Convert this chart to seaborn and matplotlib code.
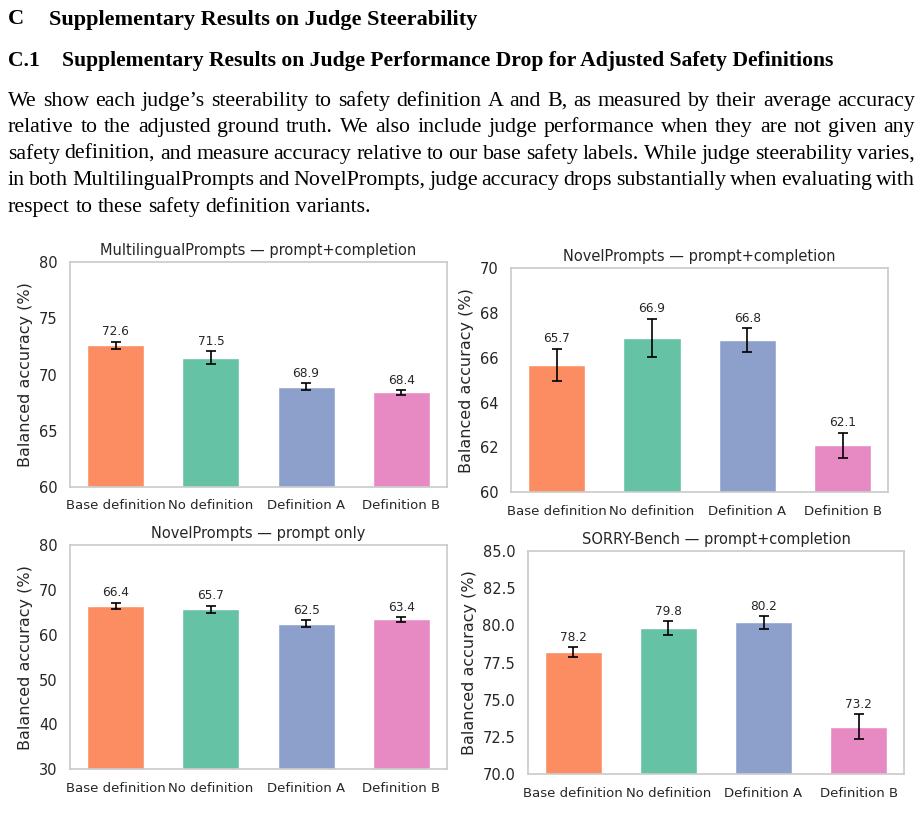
import numpy as np
import pandas as pd
import matplotlib
matplotlib.use("Agg")
import matplotlib.pyplot as plt
import seaborn as sns

# ---------------- data ----------------
categories = ["Base definition", "No definition", "Definition A", "Definition B"]

mp_pc_mean = [72.6, 71.5, 68.9, 68.4]
mp_pc_err = [0.33, 0.57, 0.30, 0.20]

np_pc_mean = [65.7, 66.9, 66.8, 62.1]
np_pc_err = [0.71, 0.85, 0.53, 0.56]

np_p_mean = [66.4, 65.7, 62.5, 63.4]
np_p_err = [0.70, 0.78, 0.78, 0.50]

sb_pc_mean = [78.2, 79.8, 80.2, 73.2]
sb_pc_err = [0.35, 0.47, 0.41, 0.83]

titles = [
    "MultilingualPrompts — prompt+completion",
    "NovelPrompts — prompt+completion",
    "NovelPrompts — prompt only",
    "SORRY-Bench — prompt+completion",
]
ylims = [(60, 80), (60, 70), (30, 80), (70, 85)]
ytick_steps = [5, 2, 10, 2.5]

heading1_num = "C"
heading1 = "Supplementary Results on Judge Steerability"
heading2_num = "C.1"
heading2 = "Supplementary Results on Judge Performance Drop for Adjusted Safety Definitions"
body_lines = [
    "We show each judge’s steerability to safety definition A and B, as measured by their average accuracy",
    "relative to the adjusted ground truth. We also include judge performance when they are not given any",
    "safety definition, and measure accuracy relative to our base safety labels. While judge steerability varies,",
    "in both MultilingualPrompts and NovelPrompts, judge accuracy drops substantially when evaluating with",
    "respect to these safety definition variants.",
]

colors = ["#fc8d62", "#66c2a5", "#8da0cb", "#e78ac3"]

# ---------------- figure ----------------
sns.set_theme(style="whitegrid")
plt.rcParams["font.family"] = ["DejaVu Sans"]

W, H = 923, 816
fig = plt.figure(figsize=(W / 100, H / 100), dpi=100)
fig.patch.set_facecolor("white")

# axes boxes in pixels: left, top, right, bottom
boxes = [
    (70, 262.3, 447, 486.7),
    (511, 268.3, 888.3, 492.3),
    (70, 545, 447, 769.3),
    (527.7, 551, 904.3, 774.3),
]
panels = [
    (mp_pc_mean, mp_pc_err),
    (np_pc_mean, np_pc_err),
    (np_p_mean, np_p_err),
    (sb_pc_mean, sb_pc_err),
]

palette = dict(zip(categories, colors))

for (l, t, r, b), (means, errs), title, ylim, step in zip(boxes, panels, titles, ylims, ytick_steps):
    ax = fig.add_axes([l / W, 1 - b / H, (r - l) / W, (b - t) / H])
    df = pd.DataFrame({"cat": categories, "val": means})
    sns.barplot(data=df, x="cat", y="val", hue="cat", palette=palette, order=categories,
                hue_order=categories, width=0.6, legend=False, ax=ax, saturation=1,
                edgecolor="white", linewidth=1.0, errorbar=None)
    bars = sorted(ax.patches, key=lambda p: p.get_x())
    xs = [p.get_x() + p.get_width() / 2 for p in bars]
    ax.errorbar(xs, means, yerr=errs, fmt="none", ecolor="black", elinewidth=1.2,
                capsize=3.6, capthick=1.2, zorder=5)
    for x, m, e in zip(xs, means, errs):
        ax.annotate(f"{m:.1f}", xy=(x, m + e), xytext=(0, 2.5), textcoords="offset points",
                    ha="center", va="bottom", fontsize=8.7, color="#262626")
    ax.set_ylim(*ylim)
    ax.set_yticks(np.arange(ylim[0], ylim[1] + step / 2, step))
    ax.grid(False)
    for s in ax.spines.values():
        s.set_color("#cccccc")
        s.set_linewidth(1.25)
    ax.tick_params(axis="y", length=0, pad=9, labelsize=10.5, colors="#262626")
    ax.tick_params(axis="x", length=0, pad=9, labelsize=9.5, colors="#262626")
    ax.set_xlabel("")
    ax.set_ylabel("Balanced accuracy (%)", fontsize=11.5, color="#262626", labelpad=4)
    ax.set_title(title, fontsize=10.5, color="#262626", pad=5)

# ---------------- header text ----------------
renderer = fig.canvas.get_renderer()
serif = ["Liberation Serif", "DejaVu Serif"]


def measure(txt, size, weight):
    t = fig.text(0, 0, txt, fontsize=size, family=serif, fontweight=weight)
    w = t.get_window_extent(renderer).width
    t.remove()
    return w


def fit_size(txt, target, weight):
    return 10 * target / measure(txt, 10, weight)


def put(txt, x, y, size, weight):
    fig.text(x / W, 1 - y / H, txt, fontsize=size, family=serif, fontweight=weight,
             va="baseline", ha="left", color="black")


# section heading
s1 = fit_size(heading1, 478 - 49, "bold")
put(heading1_num, 8, 24.5, s1, "bold")
put(heading1, 49, 24.5, s1, "bold")

s2 = fit_size(heading2, 838 - 62, "bold")
put(heading2_num, 8, 66, s2, "bold")
put(heading2, 62, 66, s2, "bold")

# body, justified
x0, x1 = 8, 915
sb = fit_size(body_lines[0], (x1 - x0) * 0.985, "normal")
baselines = [105.7, 132.2, 158.7, 185.2, 211.7]
space_w = measure("a b", sb, "normal") - measure("ab", sb, "normal")
for i, (line, yb) in enumerate(zip(body_lines, baselines)):
    words = line.split(" ")
    widths = [measure(w, sb, "normal") for w in words]
    if i < len(body_lines) - 1:
        gap = (x1 - x0 - sum(widths)) / (len(words) - 1)
    else:
        gap = space_w
    x = x0
    for w, wd in zip(words, widths):
        put(w, x, yb, sb, "normal")
        x += wd + gap

fig.savefig("out.png", dpi=100, facecolor="white")
